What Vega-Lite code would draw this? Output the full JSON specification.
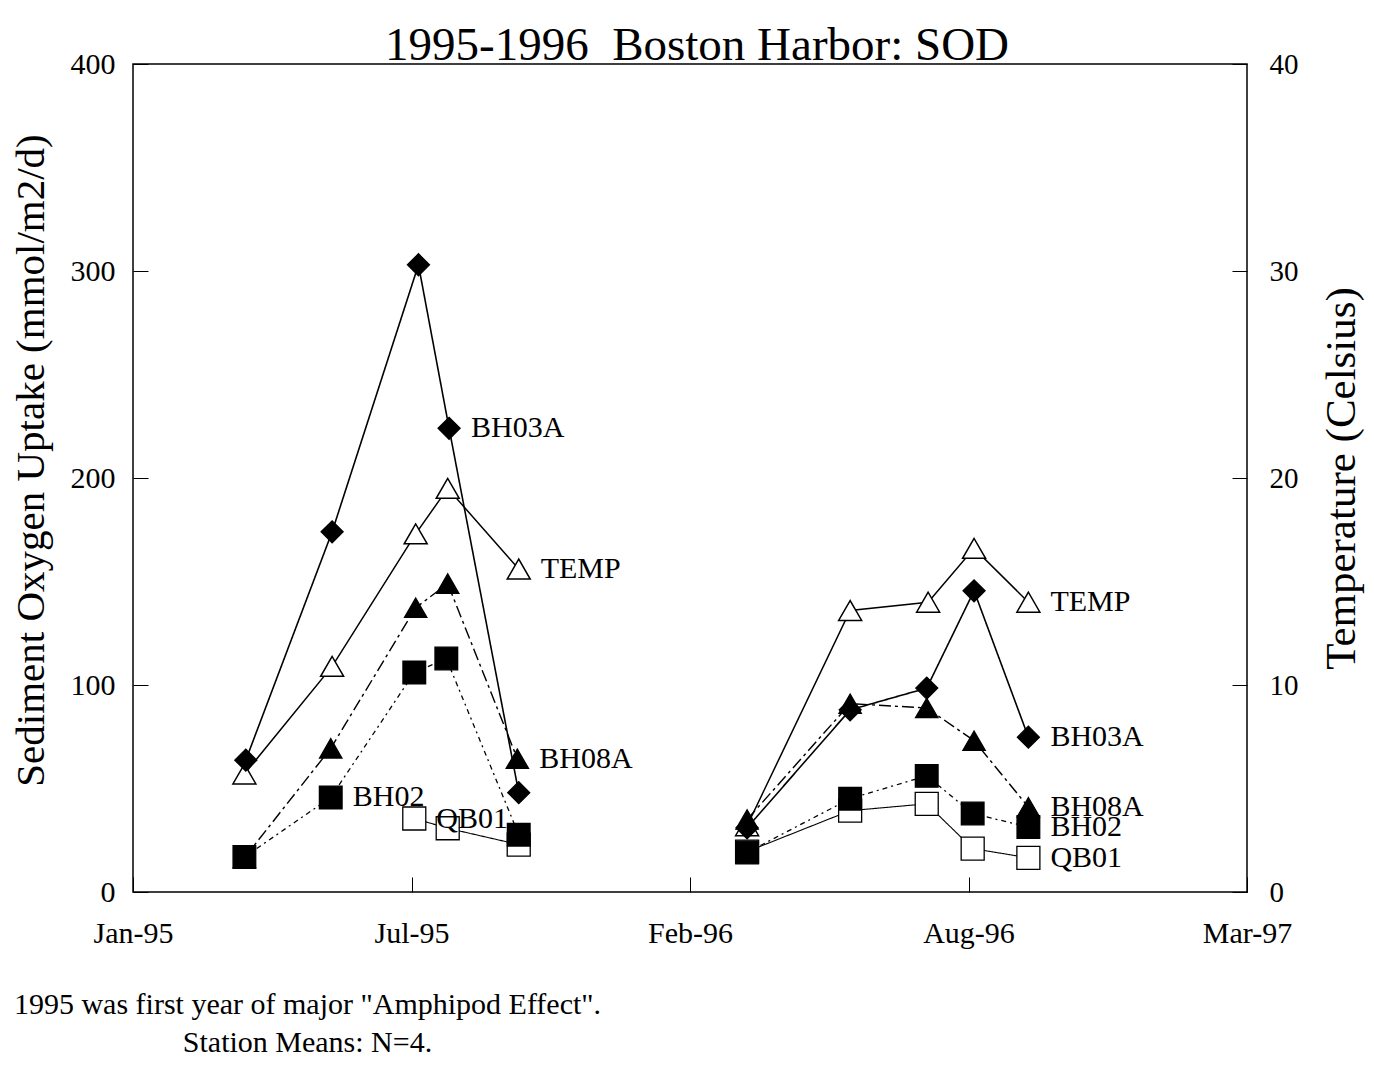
{
  "$schema": "https://vega.github.io/schema/vega-lite/v6.json",
  "background": "white",
  "autosize": {"type": "none"},
  "padding": {"left": 133, "top": 64, "right": 127, "bottom": 176},
  "width": 1114,
  "height": 828,
  "config": {
    "font": "Liberation Serif",
    "view": {"stroke": "black", "strokeWidth": 1.5},
    "axis": {
      "labelFont": "Liberation Serif",
      "titleFont": "Liberation Serif",
      "labelColor": "black",
      "titleColor": "black",
      "tickColor": "black",
      "domainColor": "black",
      "grid": false,
      "titleFontWeight": "normal",
      "labelFlush": false,
      "labelOverlap": false
    }
  },
  "datasets": {
    "sod": [
      {"station": "QB01", "year": 1995, "date": "1995-07-22", "value": 35.5, "label": "QB01"},
      {"station": "QB01", "year": 1995, "date": "1995-08-15", "value": 30.8},
      {"station": "QB01", "year": 1995, "date": "1995-10-05", "value": 22.9},
      {"station": "QB01", "year": 1996, "date": "1996-03-17", "value": 19.5},
      {"station": "QB01", "year": 1996, "date": "1996-05-30", "value": 39.3},
      {"station": "QB01", "year": 1996, "date": "1996-07-24", "value": 42.6},
      {"station": "QB01", "year": 1996, "date": "1996-08-26", "value": 21.0},
      {"station": "QB01", "year": 1996, "date": "1996-10-05", "value": 16.5, "label": "QB01"},
      {"station": "BH02", "year": 1995, "date": "1995-03-22", "value": 16.9},
      {"station": "BH02", "year": 1995, "date": "1995-05-23", "value": 45.7, "label": "BH02"},
      {"station": "BH02", "year": 1995, "date": "1995-07-22", "value": 106.0},
      {"station": "BH02", "year": 1995, "date": "1995-08-14", "value": 112.8},
      {"station": "BH02", "year": 1995, "date": "1995-10-05", "value": 27.7},
      {"station": "BH02", "year": 1996, "date": "1996-03-17", "value": 19.1},
      {"station": "BH02", "year": 1996, "date": "1996-05-30", "value": 45.1},
      {"station": "BH02", "year": 1996, "date": "1996-07-24", "value": 56.1},
      {"station": "BH02", "year": 1996, "date": "1996-08-26", "value": 37.9},
      {"station": "BH02", "year": 1996, "date": "1996-10-05", "value": 31.4, "label": "BH02"},
      {"station": "BH08A", "year": 1995, "date": "1995-03-22", "value": 16.5},
      {"station": "BH08A", "year": 1995, "date": "1995-05-23", "value": 69.4},
      {"station": "BH08A", "year": 1995, "date": "1995-07-23", "value": 137.3},
      {"station": "BH08A", "year": 1995, "date": "1995-08-15", "value": 149.0},
      {"station": "BH08A", "year": 1995, "date": "1995-10-04", "value": 64.4, "label": "BH08A"},
      {"station": "BH08A", "year": 1996, "date": "1996-03-17", "value": 35.0},
      {"station": "BH08A", "year": 1996, "date": "1996-05-30", "value": 91.0},
      {"station": "BH08A", "year": 1996, "date": "1996-07-24", "value": 88.9},
      {"station": "BH08A", "year": 1996, "date": "1996-08-27", "value": 73.1},
      {"station": "BH08A", "year": 1996, "date": "1996-10-05", "value": 41.0, "label": "BH08A"},
      {"station": "BH03A", "year": 1995, "date": "1995-03-23", "value": 63.7},
      {"station": "BH03A", "year": 1995, "date": "1995-05-24", "value": 174.0},
      {"station": "BH03A", "year": 1995, "date": "1995-07-25", "value": 303.0},
      {"station": "BH03A", "year": 1995, "date": "1995-08-16", "value": 224.0, "label": "BH03A"},
      {"station": "BH03A", "year": 1995, "date": "1995-10-05", "value": 48.0},
      {"station": "BH03A", "year": 1996, "date": "1996-03-17", "value": 31.0},
      {"station": "BH03A", "year": 1996, "date": "1996-05-30", "value": 88.0},
      {"station": "BH03A", "year": 1996, "date": "1996-07-24", "value": 98.5},
      {"station": "BH03A", "year": 1996, "date": "1996-08-27", "value": 145.5},
      {"station": "BH03A", "year": 1996, "date": "1996-10-05", "value": 74.8, "label": "BH03A"}
    ],
    "temp": [
      {"year": 1995, "date": "1995-03-22", "temp": 5.7},
      {"year": 1995, "date": "1995-05-24", "temp": 10.9},
      {"year": 1995, "date": "1995-07-23", "temp": 17.3},
      {"year": 1995, "date": "1995-08-15", "temp": 19.5},
      {"year": 1995, "date": "1995-10-05", "temp": 15.6, "label": "TEMP"},
      {"year": 1996, "date": "1996-03-17", "temp": 3.2},
      {"year": 1996, "date": "1996-05-30", "temp": 13.6},
      {"year": 1996, "date": "1996-07-25", "temp": 14.0},
      {"year": 1996, "date": "1996-08-27", "temp": 16.6},
      {"year": 1996, "date": "1996-10-05", "temp": 14.0, "label": "TEMP"}
    ]
  },
  "title": {
    "text": "1995-1996\u00a0 Boston Harbor: SOD",
    "font": "Liberation Serif",
    "fontSize": 47,
    "fontWeight": "normal",
    "color": "black",
    "anchor": "middle",
    "frame": "group",
    "baseline": "alphabetic",
    "offset": -58,
    "dx": 7
  },
  "encoding": {
    "x": {
      "field": "date",
      "type": "temporal",
      "scale": {
        "type": "utc",
        "domain": [
          {"year": 1995, "month": 1, "date": 1, "utc": true},
          {"year": 1997, "month": 3, "date": 11, "utc": true}
        ]
      },
      "axis": {
        "title": ["1995 was first year of major \"Amphipod Effect\".", "Station Means: N=4."],
        "titleFontSize": 30,
        "titleLineHeight": 38,
        "titleAlign": "center",
        "titleBaseline": "alphabetic",
        "titleX": 174,
        "titleY": 121,
        "values": [
          {"year": 1995, "month": 1, "date": 1, "utc": true},
          {"year": 1995, "month": 7, "date": 20, "utc": true},
          {"year": 1996, "month": 2, "date": 5, "utc": true},
          {"year": 1996, "month": 8, "date": 23, "utc": true},
          {"year": 1997, "month": 3, "date": 11, "utc": true}
        ],
        "format": "%b-%y",
        "labelFontSize": 30,
        "tickSize": -15,
        "labelPadding": 41,
        "domain": false
      }
    }
  },
  "layer": [
    {
      "data": {"name": "temp"},
      "encoding": {
        "y": {
          "field": "temp",
          "type": "quantitative",
          "scale": {"domain": [0, 40], "nice": false},
          "axis": {
            "orient": "right",
            "values": [0, 10, 20, 30, 40],
            "title": "Temperature (Celsius)",
            "titleFontSize": 43,
            "titleAngle": 270,
            "titleBaseline": "top",
            "titlePadding": 22,
            "labelFontSize": 29,
            "tickSize": -15,
            "labelPadding": 37,
            "domain": false
          }
        }
      },
      "layer": [
        {"mark": {"type": "line", "color": "black", "strokeWidth": 1.5}, "encoding": {"detail": {"field": "year"}}},
        {"mark": {"type": "point", "shape": "triangle-up", "filled": true, "fill": "white", "stroke": "black", "strokeWidth": 1.5, "size": 529, "opacity": 1}},
        {
          "transform": [{"filter": "isValid(datum.label)"}],
          "mark": {"type": "text", "align": "left", "baseline": "middle", "dx": 22, "fontSize": 30, "font": "Liberation Serif", "color": "black"},
          "encoding": {"text": {"field": "label"}}
        }
      ]
    },
    {
      "data": {"name": "sod"},
      "encoding": {
        "y": {
          "field": "value",
          "type": "quantitative",
          "scale": {"domain": [0, 400], "nice": false},
          "axis": {
            "orient": "left",
            "values": [0, 100, 200, 300, 400],
            "title": "Sediment Oxygen Uptake (mmol/m2/d)",
            "titleFontSize": 41,
            "titleX": -81,
            "titleY": 396,
            "labelFontSize": 30,
            "tickSize": -15,
            "labelPadding": 33,
            "domain": false
          }
        }
      },
      "layer": [
        {
          "mark": {"type": "line", "color": "black"},
          "encoding": {
            "detail": {"field": "year"},
            "strokeDash": {
              "field": "station", "type": "nominal",
              "scale": {"domain": ["BH03A", "BH08A", "BH02", "QB01"], "range": [[1, 0], [12, 4, 3, 4], [5, 4, 2, 4], [1, 0]]},
              "legend": null
            },
            "strokeWidth": {
              "field": "station", "type": "nominal",
              "scale": {"domain": ["BH03A", "BH08A", "BH02", "QB01"], "range": [1.6, 1.1, 1.1, 1.3]},
              "legend": null
            }
          }
        },
        {
          "mark": {"type": "point", "filled": true, "opacity": 1, "stroke": "black", "strokeWidth": 1.3},
          "encoding": {
            "shape": {
              "field": "station", "type": "nominal",
              "scale": {"domain": ["BH03A", "BH08A", "BH02", "QB01"], "range": ["diamond", "triangle-up", "square", "square"]},
              "legend": null
            },
            "fill": {
              "field": "station", "type": "nominal",
              "scale": {"domain": ["BH03A", "BH08A", "BH02", "QB01"], "range": ["black", "black", "black", "white"]},
              "legend": null
            },
            "size": {
              "field": "station", "type": "nominal",
              "scale": {"domain": ["BH03A", "BH08A", "BH02", "QB01"], "range": [484, 529, 441, 400]},
              "legend": null
            }
          }
        },
        {
          "transform": [{"filter": "isValid(datum.label)"}],
          "mark": {"type": "text", "align": "left", "baseline": "middle", "dx": 22, "fontSize": 30, "font": "Liberation Serif", "color": "black"},
          "encoding": {"text": {"field": "label"}}
        }
      ]
    }
  ],
  "resolve": {"scale": {"y": "independent"}, "axis": {"y": "independent"}}
}
